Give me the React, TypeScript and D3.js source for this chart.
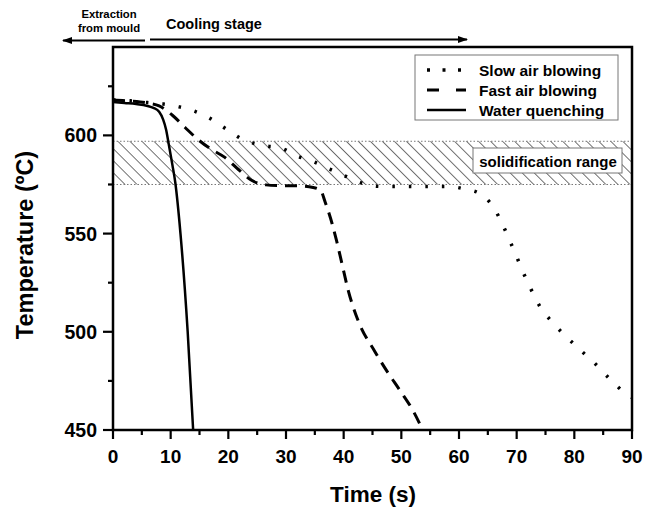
import React from "react";
import * as d3 from "d3";

const slowAir: [number, number][] = [
  [0, 618], [3, 617.6], [6, 616.7], [8.7, 616], [11.5, 614.5], [14.4, 612], [17.2, 608],
  [19.9, 602.7], [22.6, 597.8], [26.4, 594.7], [29.2, 593.5], [31.8, 589.6], [34.7, 586.7],
  [37.6, 582.8], [40.5, 579], [43.7, 575.2], [46.6, 574], [52, 574], [58, 574], [61, 572.7],
  [63.6, 570.4], [66, 563.3], [67.5, 555], [68.8, 546.4], [70, 538.2], [71.2, 529.8],
  [72.5, 521.6], [74, 513], [76.2, 504.8], [78.7, 497.2], [81.3, 490], [83.8, 483.2],
  [86.3, 475.5], [89, 468.4], [90, 466.5],
];
const fastAir: [number, number][] = [
  [0, 618], [3, 617.5], [6, 616.5], [8, 615], [10.4, 610], [12.5, 604], [14.7, 598],
  [17, 593], [19.4, 588.8], [21.8, 582.5], [24.1, 577], [26.5, 574.8], [29, 574.4],
  [32, 574.3], [34.7, 573.5], [36, 572], [36.8, 566], [38, 555], [38.8, 546], [39.7, 534.7],
  [40.8, 521], [42.5, 505.7], [45.4, 490], [47.5, 480], [49.8, 470], [52, 460], [53.7, 450],
];
const waterQuench: [number, number][] = [
  [0, 617], [2, 616.5], [4, 616], [6, 615], [7, 614], [8, 612], [8.7, 608], [9.2, 603],
  [9.7, 595], [10.3, 585], [10.8, 576], [11.7, 550], [12.95, 500], [13.9, 450],
];
const xTicks = [0, 10, 20, 30, 40, 50, 60, 70, 80, 90];
const xMinor = [5, 15, 25, 35, 45, 55, 65, 75, 85];
const yTicks = [450, 500, 550, 600];
const yMinor = [475, 525, 575, 625];
const solidRange = [575, 597];
const legendLabels = ["Slow air blowing", "Fast air blowing", "Water quenching"];
const dashStyles = ["2.5,14", "12,8", ""];
const legendDash = ["3,12.5", "12,17", ""];
const dashWidths = [3.5, 3, 2.5];

const FONT = "'Liberation Sans', Arial, sans-serif";

export default function App() {
  const L = 113, R = 632, T = 47, B = 430;
  const x = d3.scaleLinear().domain([0, 90]).range([L, R]);
  const y = d3.scaleLinear().domain([450, 645]).range([B, T]);
  const line = d3
    .line<[number, number]>()
    .x((d) => x(d[0]))
    .y((d) => y(d[1]))
    .curve(d3.curveMonotoneX);
  const series = [slowAir, fastAir, waterQuench];

  const bandTop = y(solidRange[1]);
  const bandBot = y(solidRange[0]);

  return (
    <svg
      width={646}
      height={513}
      style={{ position: "absolute", left: 0, top: 0, background: "#fff" }}
      fontFamily={FONT}
    >
      <defs>
        <pattern id="hatch" patternUnits="userSpaceOnUse" width={8.5} height={8.5} patternTransform="rotate(-45)">
          <line x1={0} y1={0} x2={0} y2={8.5} stroke="#000" strokeWidth={1.1} />
        </pattern>
        <clipPath id="plotclip">
          <rect x={L} y={T} width={R - L} height={B - T} />
        </clipPath>
        <marker id="ah" viewBox="0 0 10 10" refX={9} refY={5} markerWidth={5} markerHeight={5} orient="auto-start-reverse">
          <path d="M0,1.5 L10,5 L0,8.5 Z" fill="#000" />
        </marker>
      </defs>

      {/* solidification band */}
      <rect x={L} y={bandTop} width={R - L} height={bandBot - bandTop} fill="url(#hatch)" />
      <line x1={L} x2={R} y1={bandTop} y2={bandTop} stroke="#777" strokeWidth={1} strokeDasharray="1.5,2" />
      <line x1={L} x2={R} y1={bandBot} y2={bandBot} stroke="#777" strokeWidth={1} strokeDasharray="1.5,2" />
      <rect x={473} y={148} width={149} height={25} fill="#fff" stroke="#777" strokeWidth={1} />
      <text x={548} y={161} textAnchor="middle" dominantBaseline="central" fontSize={15} fontWeight="bold">
        solidification range
      </text>

      {/* curves */}
      <g clipPath="url(#plotclip)">
        {series.map((s, i) => (
          <path
            key={i}
            d={line(s) || ""}
            fill="none"
            stroke="#000"
            strokeWidth={dashWidths[i]}
            strokeDasharray={dashStyles[i] || undefined}
          />
        ))}
      </g>

      {/* frame */}
      <rect x={L} y={T} width={R - L} height={B - T} fill="none" stroke="#000" strokeWidth={2.5} />

      {/* x ticks */}
      {xTicks.map((t) => (
        <g key={"x" + t}>
          <line x1={x(t)} x2={x(t)} y1={B} y2={B + 9} stroke="#000" strokeWidth={2.2} />
          <text x={x(t)} y={463} textAnchor="middle" fontSize={19} fontWeight="bold">
            {t}
          </text>
        </g>
      ))}
      {xMinor.map((t) => (
        <line key={"xm" + t} x1={x(t)} x2={x(t)} y1={B} y2={B + 5} stroke="#000" strokeWidth={2.2} />
      ))}
      {/* y ticks */}
      {yTicks.map((t) => (
        <g key={"y" + t}>
          <line x1={L - 10} x2={L} y1={y(t)} y2={y(t)} stroke="#000" strokeWidth={2.2} />
          <text x={L - 16} y={y(t)} textAnchor="end" dominantBaseline="central" fontSize={19.5} fontWeight="bold">
            {t}
          </text>
        </g>
      ))}
      {yMinor.map((t) => (
        <line key={"ym" + t} x1={L - 5} x2={L} y1={y(t)} y2={y(t)} stroke="#000" strokeWidth={2.2} />
      ))}

      {/* axis titles */}
      <text x={373} y={494} textAnchor="middle" dominantBaseline="central" fontSize={22.5} fontWeight="bold">
        Time (s)
      </text>
      <text
        transform={`translate(25,245) rotate(-90)`}
        textAnchor="middle"
        dominantBaseline="central"
        fontSize={23.5}
        fontWeight="bold"
      >
        Temperature (ºC)
      </text>

      {/* legend */}
      <rect x={415} y={55} width={203} height={65} fill="#fff" stroke="#777" strokeWidth={1} />
      {legendLabels.map((lab, i) => (
        <g key={lab}>
          <line
            x1={427}
            x2={466}
            y1={70 + i * 20}
            y2={70 + i * 20}
            stroke="#000"
            strokeWidth={dashWidths[i]}
            strokeDasharray={legendDash[i] || undefined}
          />
          <text x={479} y={70 + i * 20} dominantBaseline="central" fontSize={15.5} fontWeight="bold">
            {lab}
          </text>
        </g>
      ))}

      {/* top annotations */}
      <text x={109} y={14} textAnchor="middle" dominantBaseline="central" fontSize={11.3} fontWeight="bold">
        Extraction
      </text>
      <text x={109} y={28} textAnchor="middle" dominantBaseline="central" fontSize={11.3} fontWeight="bold">
        from mould
      </text>
      <line x1={145} x2={63} y1={40.5} y2={40.5} stroke="#000" strokeWidth={2} markerEnd="url(#ah)" />
      <text x={166} y={24} dominantBaseline="central" fontSize={14.5} fontWeight="bold">
        Cooling stage
      </text>
      <line x1={150} x2={467} y1={39.5} y2={39.5} stroke="#000" strokeWidth={2} markerEnd="url(#ah)" />
    </svg>
  );
}
